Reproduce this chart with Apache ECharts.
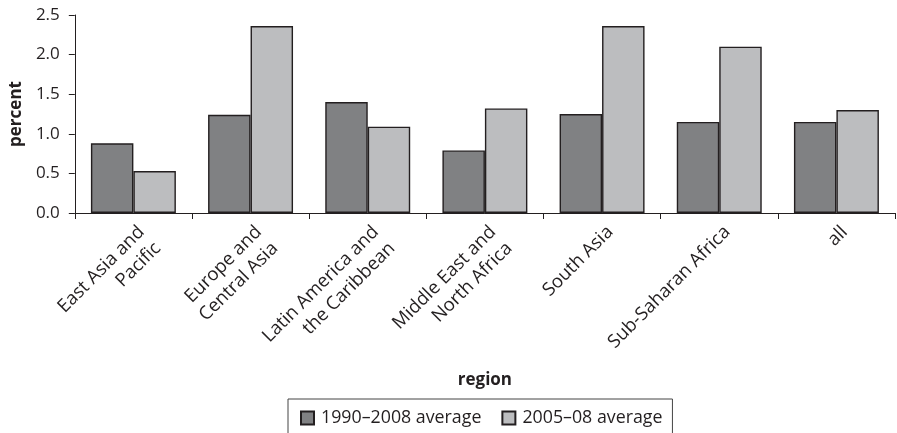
<!DOCTYPE html>
<html><head><meta charset="utf-8">
<script src="https://cdn.jsdelivr.net/npm/echarts@6/dist/echarts.min.js"></script>
<style>html,body{margin:0;padding:0;background:#fff}#c{width:897px;height:433px}</style>
</head><body><div id="c"></div>
<script>
const categories = ["East Asia and\nPacific", "Europe and\nCentral Asia", "Latin America and\nthe Caribbean", "Middle East and\nNorth Africa", "South Asia", "Sub-Saharan Africa", "all"];
const series1990 = [0.88, 1.24, 1.40, 0.79, 1.25, 1.15, 1.15];
const series2005 = [0.53, 2.36, 1.09, 1.32, 2.36, 2.10, 1.30];
const seriesNames = ["1990\u20132008 average", "2005\u201308 average"];
const yTicks = [0, 0.5, 1.0, 1.5, 2.0, 2.5];

const txt = '#231f20';
const font = 'Open Sans';
const chart = echarts.init(document.getElementById('c'), null, {renderer: 'canvas'});
chart.setOption({
  animation: false,
  textStyle: {fontFamily: font, color: txt},
  grid: {left: 65, right: 2, top: 15, bottom: 220, containLabel: false},
  legend: {
    data: seriesNames,
    left: 288, top: 399,
    padding: [10, 10, 14, 12],
    borderColor: '#444', borderWidth: 1,
    itemWidth: 13, itemHeight: 13, itemGap: 20,
    icon: 'rect',
    textStyle: {fontFamily: font, fontSize: 17.8, color: txt, padding: [0, 0, 0, 2]}
  },
  xAxis: {
    type: 'category', data: categories,
    name: 'region', nameLocation: 'middle', nameGap: 159,
    nameTextStyle: {fontFamily: font, fontWeight: 'bold', fontSize: 17, color: txt},
    axisLine: {lineStyle: {color: txt, width: 1}},
    axisTick: {show: true, length: 6, alignWithLabel: false, lineStyle: {color: txt}},
    axisLabel: {rotate: 45, interval: 0, margin: 8, fontSize: 18.5, color: txt, fontFamily: font, verticalAlign: 'top', lineHeight: 23}
  },
  yAxis: {
    type: 'value', min: 0, max: 2.5, interval: 0.5,
    name: 'percent', nameLocation: 'middle', nameGap: 49, nameRotate: 90,
    nameTextStyle: {fontFamily: font, fontWeight: 'bold', fontSize: 17, color: txt},
    axisLine: {show: true, lineStyle: {color: txt, width: 1}},
    axisTick: {show: true, length: 6, lineStyle: {color: txt}},
    splitLine: {show: false},
    axisLabel: {margin: 15, fontSize: 17, color: txt, fontFamily: font,
      formatter: v => { const t = yTicks.find(x => Math.abs(x - v) < 1e-9); return (t !== undefined ? t : v).toFixed(1); }}
  },
  series: [
    {name: seriesNames[0], type: 'bar', data: series1990, barGap: '0%', barCategoryGap: '27.5%',
     itemStyle: {color: '#808183', borderColor: txt, borderWidth: 1.4}},
    {name: seriesNames[1], type: 'bar', data: series2005, barGap: '0%', barCategoryGap: '27.5%',
     itemStyle: {color: '#bcbdbf', borderColor: txt, borderWidth: 1.4}}
  ]
});
</script></body></html>
